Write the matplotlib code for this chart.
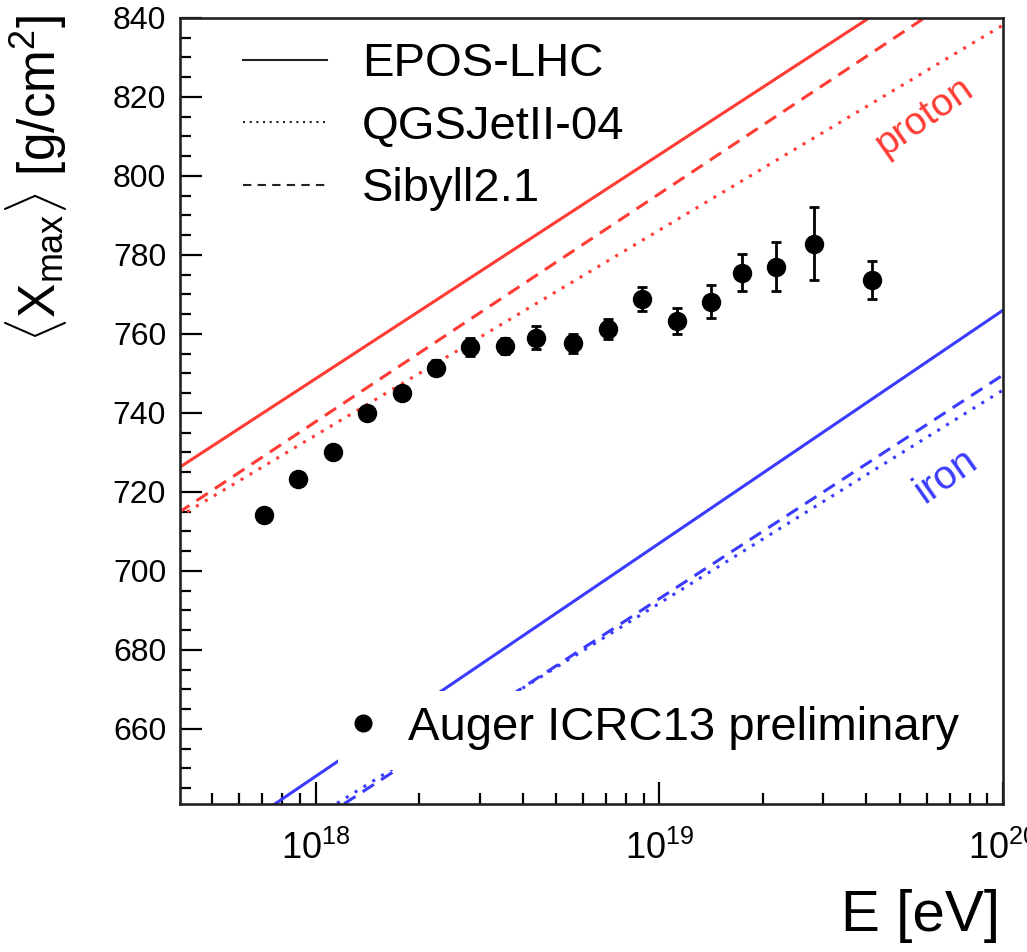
import numpy as np
import matplotlib
matplotlib.use("Agg")
import matplotlib.pyplot as plt
from matplotlib.lines import Line2D
from matplotlib.patches import Rectangle
from matplotlib.ticker import MultipleLocator, NullFormatter

plt.rcParams['font.family'] = ['Liberation Sans', 'DejaVu Sans']
plt.rcParams['mathtext.fontset'] = 'custom'
plt.rcParams['mathtext.rm'] = 'Liberation Sans'
plt.rcParams['mathtext.it'] = 'Liberation Sans:italic'

# Auger ICRC13 data (log10 E/eV, <Xmax>, stat. error)
lgE_data = [17.85, 17.95, 18.05, 18.15, 18.25, 18.35, 18.45, 18.55, 18.64,
            18.75, 18.85, 18.95, 19.05, 19.15, 19.24, 19.34, 19.45, 19.62]
xmax_data = [714.2, 723.2, 730.2, 740.1, 745.1, 751.5, 756.7, 757.0, 759.1,
             757.6, 761.2, 768.9, 763.3, 768.2, 775.5, 777.0, 782.9, 773.6]
xmax_err = [1.0, 1.0, 1.0, 1.2, 1.3, 1.8, 2.3, 2.0, 2.9,
            2.5, 2.5, 3.0, 3.3, 4.1, 4.7, 6.2, 9.2, 4.8]

# model predictions, values at the two ends of the energy range
model_lgE = [17.6, 20.0]
p_epos = [726.0, 862.1]
p_qgsjet = [713.6, 838.2]
p_sibyll = [714.7, 853.2]
fe_epos = [624.4, 766.0]
fe_qgsjet = [616.2, 745.8]
fe_sibyll = [613.7, 749.6]

red = '#ff3b33'
blue = '#3b3bff'
dash = (0, (4.4, 2.8))
dot = (0, (1, 2.4))

fig = plt.figure(figsize=(10.27, 9.52), dpi=100)
ax = fig.add_axes([0.1753, 0.1555, 0.8013, 0.8256])

E_mod = 10 ** np.array(model_lgE)
ax.plot(E_mod, p_epos, color=red, lw=2.2, zorder=2)
ax.plot(E_mod, p_qgsjet, color=red, lw=2.2, ls=dot, zorder=2)
ax.plot(E_mod, p_sibyll, color=red, lw=2.2, ls=dash, zorder=2)
ax.plot(E_mod, fe_epos, color=blue, lw=2.2, zorder=2)
ax.plot(E_mod, fe_qgsjet, color=blue, lw=2.2, ls=dot, zorder=2)
ax.plot(E_mod, fe_sibyll, color=blue, lw=2.2, ls=dash, zorder=2)

ax.errorbar(10 ** np.array(lgE_data), xmax_data, yerr=xmax_err, fmt='o',
            color='black', ms=13, elinewidth=2.0, capsize=3.8, capthick=2.0,
            zorder=5)

ax.text(5.9e19, 815, 'proton', color=red, fontsize=28, rotation=35,
        ha='center', va='center')
ax.text(6.8e19, 724, 'iron', color=blue, fontsize=29, rotation=35,
        ha='center', va='center')

# white box behind the data legend (hides the model lines there)
ax.add_patch(Rectangle((0.192, 0.0433), 0.786, 0.1005, transform=ax.transAxes,
                       facecolor='white', edgecolor='none', zorder=3))

h_models = [Line2D([], [], color='#222222', lw=1.5),
            Line2D([], [], color='#222222', lw=1.5, ls=(0, (1, 2.2))),
            Line2D([], [], color='#222222', lw=1.5, ls=(0, (4, 3)))]
leg1 = ax.legend(h_models, ['EPOS-LHC', 'QGSJetII-04', 'Sibyll2.1'],
                 loc='upper left', bbox_to_anchor=(0.0535, 0.993),
                 frameon=False, fontsize=34, handlelength=1.78,
                 handletextpad=0.74, labelspacing=0.39, borderaxespad=0)
ax.add_artist(leg1)

h_data = [Line2D([], [], color='black', marker='o', ms=12, ls='none')]
ax.legend(h_data, ['Auger ICRC13 preliminary'], loc='center left',
          bbox_to_anchor=(0.1764, 0.0967), frameon=False, fontsize=34,
          handlelength=0.8, handletextpad=0.55, borderaxespad=0)

ax.set_xscale('log')
ax.set_xlim(4.03e17, 1e20)
ax.set_ylim(641, 840)
ax.yaxis.set_major_locator(MultipleLocator(20))
ax.yaxis.set_minor_locator(MultipleLocator(5))
ax.xaxis.set_minor_formatter(NullFormatter())

ax.tick_params(which='both', direction='in', top=False, right=False)
ax.tick_params(which='major', length=16, width=1.6)
ax.tick_params(which='minor', length=8, width=1.6)
ax.tick_params(axis='y', labelsize=23, pad=10)
ax.tick_params(axis='x', labelsize=26, pad=19)
for s in ax.spines.values():
    s.set_linewidth(1.9)
    s.set_color('#222222')

ax.set_xlabel('E [eV]', fontsize=42, loc='right')
ax.xaxis.set_label_coords(0.997, -0.108)
ax.set_ylabel(r'$\langle\mathrm{X}_{\mathrm{max}}\rangle$ [g/cm$^{2}$]',
              fontsize=37, loc='top')
ax.yaxis.set_label_coords(-0.135, 1.004)

fig.savefig('out.png', dpi=100)
